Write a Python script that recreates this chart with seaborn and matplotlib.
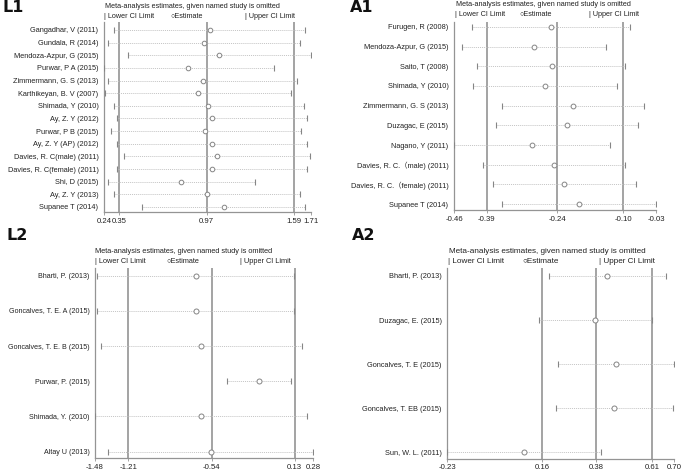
import numpy as np
import pandas as pd
import matplotlib
matplotlib.use("Agg")
import matplotlib.pyplot as plt
import seaborn as sns

sns.set_theme(style="white")
plt.rcParams['font.family'] = ['Liberation Sans', 'Noto Sans CJK SC', 'DejaVu Sans']

# ---------------- data ----------------
l1_names = ["Gangadhar, V (2011)", "Gundala, R (2014)", "Mendoza-Azpur, G (2015)", "Purwar, P A (2015)",
            "Zimmermann, G. S (2013)", "Karthikeyan, B. V (2007)", "Shimada, Y (2010)", "Ay, Z. Y (2012)",
            "Purwar, P B (2015)", "Ay, Z. Y (AP) (2012)", "Davies, R. C(male) (2011)",
            "Davies, R. C(female) (2011)", "Shi, D (2015)", "Ay, Z. Y (2013)", "Supanee T (2014)"]
l1_lower = [0.31, 0.27, 0.41, 0.24, 0.27, 0.25, 0.31, 0.33, 0.29, 0.33, 0.38, 0.33, 0.27, 0.31, 0.51]
l1_est = [0.99, 0.95, 1.06, 0.84, 0.94, 0.91, 0.98, 1.01, 0.96, 1.01, 1.04, 1.01, 0.79, 0.97, 1.09]
l1_upper = [1.67, 1.63, 1.71, 1.45, 1.61, 1.57, 1.66, 1.68, 1.64, 1.68, 1.70, 1.68, 1.31, 1.63, 1.67]
l1_ticks = [0.24, 0.35, 0.97, 1.59, 1.71]
l1_labels = ["0.24", "0.35", "0.97", "1.59", "1.71"]
l1_refs = [0.35, 0.97, 1.59]

a1_names = ["Furugen, R (2008)", "Mendoza-Azpur, G (2015)", "Saito, T (2008)", "Shimada, Y (2010)",
            "Zimmermann, G. S (2013)", "Duzagac, E (2015)", "Nagano, Y (2011)",
            "Davies, R. C.（male) (2011)", "Davies, R. C.（female) (2011)", "Supanee T (2014)"]
a1_lower = [-0.422, -0.443, -0.410, -0.419, -0.358, -0.371, -0.46, -0.398, -0.378, -0.357]
a1_est = [-0.254, -0.290, -0.252, -0.266, -0.207, -0.219, -0.295, -0.248, -0.226, -0.194]
a1_upper = [-0.085, -0.136, -0.095, -0.112, -0.055, -0.068, -0.127, -0.095, -0.073, -0.03]
a1_ticks = [-0.46, -0.39, -0.24, -0.10, -0.03]
a1_labels = ["-0.46", "-0.39", "-0.24", "-0.10", "-0.03"]
a1_refs = [-0.39, -0.24, -0.10]

l2_names = ["Bharti, P. (2013)", "Goncalves, T. E. A (2015)", "Goncalves, T. E. B (2015)",
            "Purwar, P. (2015)", "Shimada, Y. (2010)", "Altay U (2013)"]
l2_lower = [-1.464, -1.464, -1.434, -0.413, -1.48, -1.372]
l2_est = [-0.668, -0.668, -0.623, -0.160, -0.628, -0.547]
l2_upper = [0.125, 0.125, 0.192, 0.101, 0.227, 0.28]
l2_ticks = [-1.48, -1.21, -0.54, 0.13, 0.28]
l2_labels = ["-1.48", "-1.21", "-0.54", "0.13", "0.28"]
l2_refs = [-1.21, -0.54, 0.13]

a2_names = ["Bharti, P. (2013)", "Duzagac, E. (2015)", "Goncalves, T. E (2015)",
            "Goncalves, T. EB (2015)", "Sun, W. L. (2011)"]
a2_lower = [0.188, 0.145, 0.223, 0.217, -0.23]
a2_est = [0.426, 0.376, 0.463, 0.455, 0.086]
a2_upper = [0.668, 0.61, 0.70, 0.694, 0.402]
a2_ticks = [-0.23, 0.16, 0.38, 0.61, 0.70]
a2_labels = ["-0.23", "0.16", "0.38", "0.61", "0.70"]
a2_refs = [0.16, 0.38, 0.61]

TITLE = "Meta-analysis estimates, given named study is omitted"

W, H = 685, 471
fig = plt.figure(figsize=(W / 100, H / 100), dpi=100)


def rect(l, r, t, b):
    return [l / W, 1 - b / H, (r - l) / W, (b - t) / H]


def fx(x):
    return x / W


def fy(y):
    return 1 - y / H


GREY = "#949494"
MK = "#858585"
DOT = "#c4c4c4"
TXT = "#222222"


def panel(box, names, lower, est, upper, ticks, labels, refs, ypad, fs, circ, cap):
    ax = fig.add_axes(rect(*box))
    n = len(names)
    df = pd.DataFrame({"name": names, "y": np.arange(n), "lower": lower, "est": est, "upper": upper})
    for r in refs:
        ax.axvline(r, color=GREY, lw=1.2, zorder=1)
    ax.hlines(df["y"], df["lower"], df["upper"], color=DOT, lw=0.7, linestyles=(0, (1, 1)), zorder=2)
    sns.scatterplot(data=df, x="lower", y="y", marker="|", s=cap, color=MK, linewidth=0.8, ax=ax, zorder=3)
    sns.scatterplot(data=df, x="upper", y="y", marker="|", s=cap, color=MK, linewidth=0.8, ax=ax, zorder=3)
    sns.scatterplot(data=df, x="est", y="y", marker="o", s=circ, facecolor="white", edgecolor=MK,
                    linewidth=0.7, ax=ax, zorder=4)
    ax.set_xlim(ticks[0], ticks[-1])
    ax.set_ylim(n - 1 + ypad[1], -ypad[0])
    ax.set_yticks(df["y"])
    ax.set_yticklabels(names, fontsize=fs, color=TXT)
    ax.set_xticks(ticks)
    ax.set_xticklabels(labels, fontsize=5.6, color=TXT)
    ax.tick_params(axis="y", length=0, pad=4)
    ax.tick_params(axis="x", length=2.5, width=0.6, color=GREY, pad=1.5, bottom=True)
    ax.set_xlabel("")
    ax.set_ylabel("")
    for s in ["top", "right"]:
        ax.spines[s].set_visible(False)
    for s in ["left", "bottom"]:
        ax.spines[s].set_color(GREY)
        ax.spines[s].set_linewidth(0.9)
    ax.set_facecolor("white")
    return ax


panel((104, 311, 22, 212), l1_names, l1_lower, l1_est, l1_upper, l1_ticks, l1_labels, l1_refs,
      (0.63, 0.4), 5.35, 11, 16)
panel((454, 656, 22, 210), a1_names, a1_lower, a1_est, a1_upper, a1_ticks, a1_labels, a1_refs,
      (0.25, 0.3), 5.35, 12, 18)
panel((95, 313.3, 268, 458.3), l2_names, l2_lower, l2_est, l2_upper, l2_ticks, l2_labels, l2_refs,
      (0.22, 0.19), 5.1, 13, 24)
panel((447.3, 674, 268, 458.7), a2_names, a2_lower, a2_est, a2_upper, a2_ticks, a2_labels, a2_refs,
      (0.18, 0.145), 5.3, 13, 20)


def header(x0, ytitle, yleg, xs, fs):
    fig.text(fx(x0), fy(ytitle), TITLE, fontsize=fs, color=TXT, ha="left", va="center")
    fig.text(fx(xs[0]), fy(yleg), "| Lower CI Limit", fontsize=fs, color=TXT, ha="left", va="center")
    fig.text(fx(xs[1]), fy(yleg), "○Estimate", fontsize=fs, color=TXT, ha="left", va="center")
    fig.text(fx(xs[2]), fy(yleg), "| Upper CI Limit", fontsize=fs, color=TXT, ha="left", va="center")


header(105, 6, 16, (104, 170, 245), 5.25)
header(456, 5, 14, (455, 519, 589), 5.25)
header(95, 251.7, 261.7, (95, 166, 240), 5.3)
header(449, 251.7, 261.7, (448, 522, 599), 5.9)

for lab, x, y in [("L1", 2, 8), ("A1", 350, 8), ("L2", 6, 236), ("A2", 352, 236)]:
    fig.text(fx(x), fy(y), lab, fontsize=11.5, fontweight="bold", color="#111111", ha="left", va="center",
             family="DejaVu Sans")

fig.savefig("out.png", dpi=100, facecolor="white")
